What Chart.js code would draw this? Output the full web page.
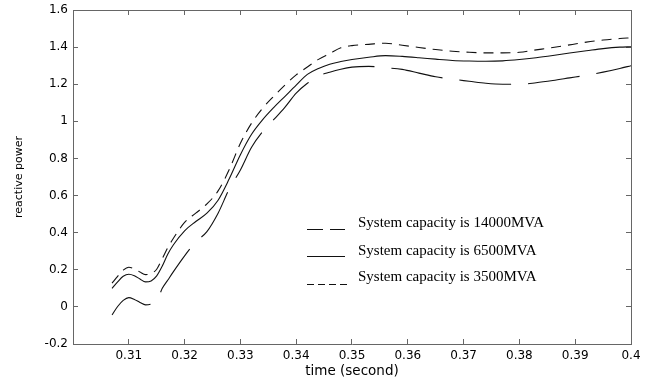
<!DOCTYPE html>
<html>
<head>
<meta charset="utf-8">
<title>reactive power</title>
<script src="https://cdn.jsdelivr.net/npm/chart.js@4.4.1/dist/chart.umd.min.js"></script>
<style>
  html, body { margin: 0; padding: 0; background: #fff; }
  canvas { display: block; }
</style>
</head>
<body>
<canvas id="c" width="662" height="384"></canvas>
<script>
// sample times (s)
const times = [
  0.307, 0.308, 0.309, 0.310, 0.311, 0.312, 0.313, 0.314, 0.315, 0.316,
  0.317, 0.318, 0.320, 0.322, 0.324, 0.326, 0.328, 0.330, 0.332, 0.334,
  0.336, 0.338, 0.340, 0.342, 0.344, 0.346, 0.348, 0.350, 0.353, 0.356,
  0.359, 0.362, 0.365, 0.368, 0.371, 0.374, 0.377, 0.380, 0.383, 0.386,
  0.389, 0.392, 0.395, 0.398, 0.400
];

// reactive power for each system capacity
const q14000 = [
  -0.043, 0.002, 0.035, 0.050, 0.040, 0.024, 0.011, 0.015, 0.030, 0.100,
  0.145, 0.190, 0.275, 0.350, 0.406, 0.505, 0.635, 0.738, 0.860, 0.945,
  1.010, 1.077, 1.152, 1.205, 1.245, 1.265, 1.281, 1.292, 1.296, 1.289,
  1.280, 1.260, 1.240, 1.227, 1.216, 1.205, 1.200, 1.200, 1.208, 1.220,
  1.234, 1.248, 1.265, 1.285, 1.300
];
const q6500 = [
  0.100, 0.135, 0.165, 0.176, 0.168, 0.150, 0.135, 0.140, 0.167, 0.220,
  0.285, 0.335, 0.410, 0.460, 0.505, 0.575, 0.690, 0.820, 0.930, 1.009,
  1.075, 1.135, 1.195, 1.253, 1.285, 1.308, 1.322, 1.333, 1.345, 1.354,
  1.350, 1.343, 1.335, 1.328, 1.325, 1.324, 1.326, 1.333, 1.343, 1.355,
  1.368, 1.380, 1.392, 1.400, 1.402
];
const q3500 = [
  0.128, 0.165, 0.198, 0.214, 0.205, 0.188, 0.174, 0.180, 0.203, 0.260,
  0.320, 0.370, 0.455, 0.505, 0.555, 0.625, 0.740, 0.882, 0.990, 1.071,
  1.136, 1.196, 1.250, 1.293, 1.334, 1.365, 1.396, 1.408, 1.415, 1.421,
  1.410, 1.398, 1.387, 1.378, 1.372, 1.369, 1.369, 1.372, 1.385, 1.398,
  1.412, 1.427, 1.438, 1.446, 1.450
];

const seriesLabels = [
  'System capacity is 14000MVA',
  'System capacity is 6500MVA',
  'System capacity is 3500MVA'
];
const seriesDash = [[52, 17], [], [10, 7]];
const legendDash = [[16, 7], [], [7, 4]];

const AXIS = '#666';

const pts = (ys) => times.map((t, i) => ({ x: t, y: ys[i] }));

const line = (ys, i) => ({
  label: seriesLabels[i],
  data: pts(ys),
  borderColor: '#111',
  borderWidth: 1.1,
  borderDash: seriesDash[i],
  borderDashOffset: i === 0 ? 4 : 0,
  pointRadius: 0,
  fill: false,
  cubicInterpolationMode: 'monotone',
  xAxisID: 'x',
  yAxisID: 'y'
});

// legend sits inside the plot area, lower middle
const innerLegend = {
  id: 'innerLegend',
  afterDraw(chart) {
    const ctx = chart.ctx;
    const lineY = [229, 256, 284];
    const textY = [227, 255, 281];
    ctx.save();
    ctx.strokeStyle = '#111';
    ctx.lineWidth = 1.1;
    ctx.fillStyle = '#000';
    ctx.font = '15px "Liberation Serif", "Times New Roman", serif';
    ctx.textBaseline = 'alphabetic';
    ctx.textAlign = 'left';
    seriesLabels.forEach((txt, i) => {
      ctx.setLineDash(legendDash[i]);
      ctx.beginPath();
      ctx.moveTo(307, lineY[i] + 0.5);
      ctx.lineTo(i === 2 ? 350 : 345, lineY[i] + 0.5);
      ctx.stroke();
      ctx.fillText(txt, 358, textY[i]);
    });
    ctx.restore();
  }
};

const tickFont = { family: 'DejaVu Sans', size: 12 };

// inward tick marks, box drawn by the axis borders
const inwardGrid = { display: true, drawOnChartArea: false, drawTicks: true, tickLength: -5, color: AXIS };
const axisBorder = { display: true, color: AXIS, width: 1 };

const xRange = { type: 'linear', min: 0.3, max: 0.4 };
const yRange = { type: 'linear', min: -0.2, max: 1.6 };

// vertical axes: fixed width, and no extra room reserved above/below for labels
const fixWidth = (w) => (s) => {
  s.width = w;
  s.paddingTop = 0;
  s.paddingBottom = 0;
};

new Chart(document.getElementById('c'), {
  type: 'line',
  data: { datasets: [line(q14000, 0), line(q6500, 1), line(q3500, 2)] },
  options: {
    responsive: false,
    animation: false,
    layout: { padding: { left: 0, right: 31, top: 10, bottom: 0 } },
    plugins: { legend: { display: false }, tooltip: { enabled: false } },
    scales: {
      x: {
        ...xRange,
        position: 'bottom',
        afterFit: (s) => { s.height = 40; },
        grid: inwardGrid,
        border: axisBorder,
        ticks: {
          stepSize: 0.01,
          autoSkip: false,
          maxRotation: 0,
          padding: 10,
          color: '#000',
          font: tickFont,
          callback: (v) => (Math.abs(v - 0.3) < 1e-9 ? '' : String(Math.round(v * 100) / 100))
        },
        title: {
          display: true,
          text: 'time (second)',
          color: '#000',
          font: { family: 'DejaVu Sans', size: 13.5 },
          padding: { top: 0, bottom: 4 }
        }
      },
      x2: {
        ...xRange,
        position: 'top',
        afterFit: (s) => { s.height = 0; },
        grid: inwardGrid,
        border: axisBorder,
        ticks: { stepSize: 0.01, display: false }
      },
      y: {
        ...yRange,
        position: 'left',
        afterFit: fixWidth(73),
        grid: inwardGrid,
        border: axisBorder,
        ticks: {
          stepSize: 0.2,
          padding: 10,
          color: '#000',
          font: tickFont,
          callback: (v) => String(Math.round(v * 10) / 10)
        },
        title: {
          display: true,
          text: 'reactive power',
          color: '#000',
          font: { family: 'DejaVu Sans', size: 11 },
          padding: { top: 13, bottom: 0 }
        }
      },
      y2: {
        ...yRange,
        position: 'right',
        afterFit: fixWidth(0),
        grid: inwardGrid,
        border: axisBorder,
        ticks: { stepSize: 0.2, display: false }
      }
    }
  },
  plugins: [innerLegend]
});
</script>
</body>
</html>
